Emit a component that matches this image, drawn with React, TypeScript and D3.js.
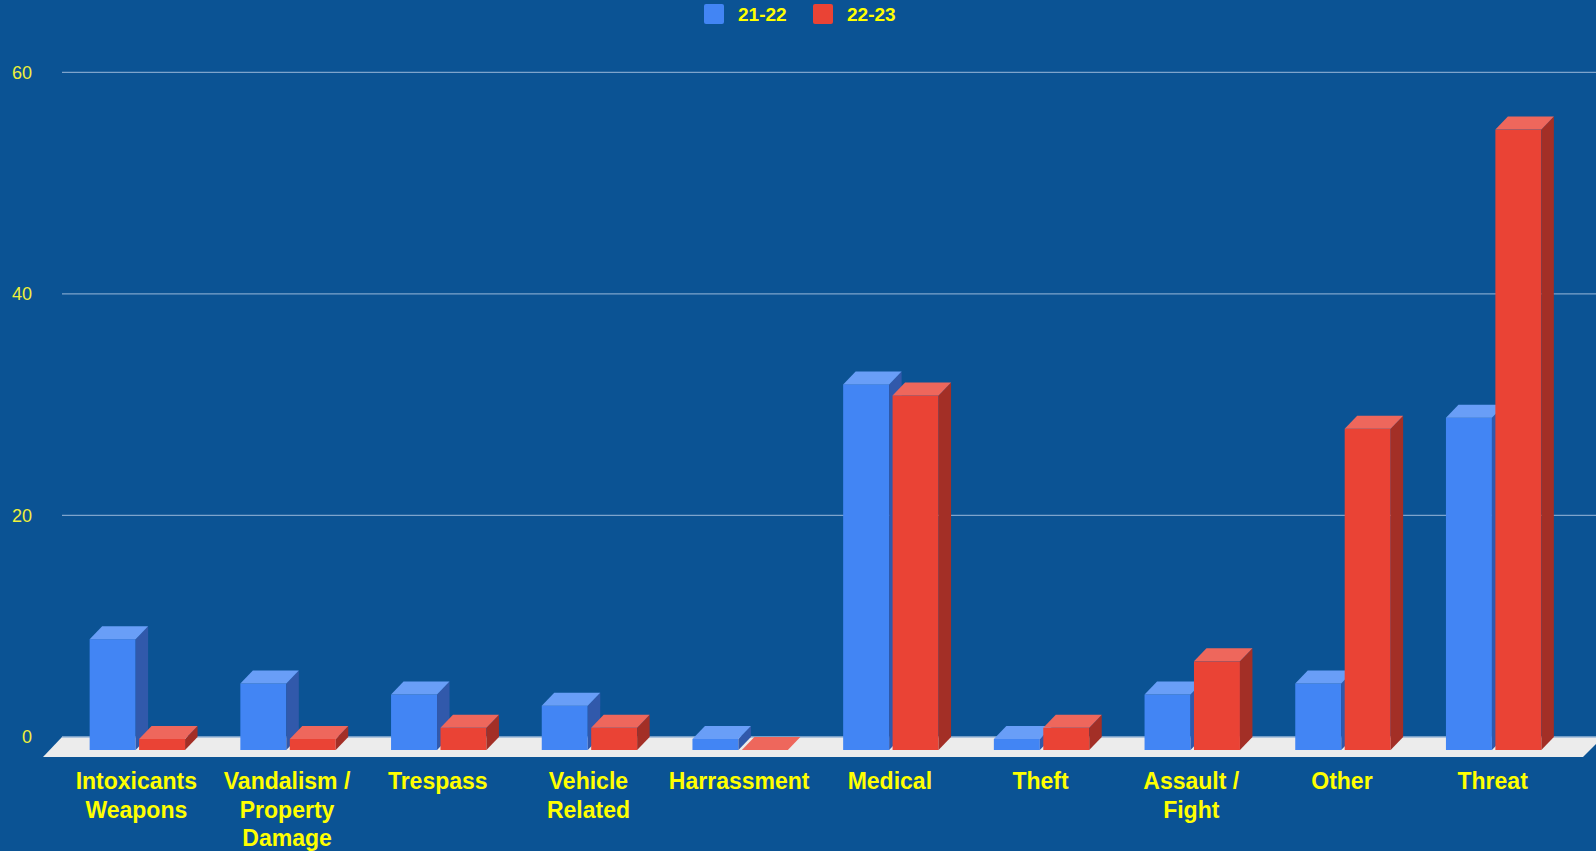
import React, { useRef, useEffect } from "react";
import * as d3 from "d3";

const categories = [
  "Intoxicants Weapons",
  "Vandalism / Property Damage",
  "Trespass",
  "Vehicle Related",
  "Harrassment",
  "Medical",
  "Theft",
  "Assault / Fight",
  "Other",
  "Threat",
];
const seriesNames = ["21-22", "22-23"];
const values2122 = [10, 6, 5, 4, 1, 33, 1, 5, 6, 30];
const values2223 = [1, 1, 2, 2, 0, 32, 2, 8, 29, 56];
const yTicks = [0, 20, 40, 60];

const palette = [
  { front: "#4285f4", top: "#699ef7", side: "#3159ab" },
  { front: "#ea4335", top: "#ee675c", side: "#a32f26" },
];

const W = 1596;
const H = 851;
const FONT = "'Liberation Sans', Arial, sans-serif";

// wrap a label greedily to fit maxW at the given font
function wrap(text: string, font: string, maxW: number): string[] {
  const ctx = document.createElement("canvas").getContext("2d")!;
  ctx.font = font;
  const words = text.split(" ");
  const lines: string[] = [];
  let cur = "";
  words.forEach((w) => {
    const t = cur ? cur + " " + w : w;
    if (cur && ctx.measureText(t).width > maxW) {
      lines.push(cur);
      cur = w;
    } else cur = t;
  });
  if (cur) lines.push(cur);
  return lines;
}

const App = () => {
  const svgRef = useRef<SVGSVGElement>(null);

  useEffect(() => {
    document.body.style.margin = "0";
    const svg = d3.select(svgRef.current);
    svg.selectAll("*").remove();

    const series = [values2122, values2223];
    const depthX = 12.5;
    const depthY = 13;

    const x = d3.scaleBand().domain(categories).range([62, 1569]);
    const pairW = x.bandwidth() * 0.633;
    const xInner = d3
      .scaleBand()
      .domain(seriesNames)
      .range([0, pairW])
      .paddingInner(0.07);

    // y is measured on the back wall
    const y = d3.scaleLinear().domain([0, 60]).range([737, 72.3]);

    svg
      .append("rect")
      .attr("width", W)
      .attr("height", H)
      .attr("fill", "#0b5394");

    // gridlines
    svg
      .selectAll(".grid")
      .data(yTicks.filter((t) => t > 0))
      .join("line")
      .attr("class", "grid")
      .attr("x1", 62)
      .attr("x2", W)
      .attr("y1", (d) => y(d))
      .attr("y2", (d) => y(d))
      .attr("stroke", "#7ea4cc")
      .attr("stroke-width", 1.2);

    // floor
    const y0 = y(0);
    svg
      .append("path")
      .attr(
        "d",
        `M62,${y0} L1603,${y0} L1583,${y0 + 20} L43,${y0 + 20} Z`
      )
      .attr("fill", "#ececec");
    svg
      .append("line")
      .attr("x1", 62)
      .attr("x2", W)
      .attr("y1", y0)
      .attr("y2", y0)
      .attr("stroke", "#9db8d8")
      .attr("stroke-width", 1.5);

    // y labels
    svg
      .selectAll(".ylab")
      .data(yTicks)
      .join("text")
      .attr("class", "ylab")
      .attr("x", 32)
      .attr("y", (d) => y(d))
      .attr("dy", "0.35em")
      .attr("text-anchor", "end")
      .attr("font-family", FONT)
      .attr("font-size", 18)
      .attr("fill", "#f0f03a")
      .text((d) => d);

    // 3d bars
    categories.forEach((c, ci) => {
      const start = x(c)! + (x.bandwidth() - pairW) / 2;
      seriesNames.forEach((s, si) => {
        const v = series[si][ci];
        const col = palette[si];
        const x0 = start + xInner(s)!;
        const bw = xInner.bandwidth();
        const yf = y(v) + depthY;
        const yb = y0 + depthY;
        const g = svg.append("g");
        if (v > 0) {
          g.append("rect")
            .attr("x", x0)
            .attr("y", yf)
            .attr("width", bw)
            .attr("height", yb - yf)
            .attr("fill", col.front);
          g.append("path")
            .attr(
              "d",
              `M${x0 + bw},${yf} L${x0 + bw + depthX},${yf - depthY} L${x0 + bw + depthX},${y0} L${x0 + bw},${yb} Z`
            )
            .attr("fill", col.side);
        }
        g.append("path")
          .attr(
            "d",
            `M${x0},${yf} L${x0 + bw},${yf} L${x0 + bw + depthX},${yf - depthY} L${x0 + depthX},${yf - depthY} Z`
          )
          .attr("fill", col.top);
      });
    });

    // category labels
    const labFont = `bold 23px ${FONT}`;
    categories.forEach((c) => {
      const lines = wrap(c, labFont, 150);
      const t = svg
        .append("text")
        .attr("x", x(c)! + x.bandwidth() / 2 - 1)
        .attr("y", 789)
        .attr("text-anchor", "middle")
        .attr("font-family", FONT)
        .attr("font-weight", "bold")
        .attr("font-size", 23)
        .attr("fill", "#ffff00");
      lines.forEach((l, i) =>
        t
          .append("tspan")
          .attr("x", x(c)! + x.bandwidth() / 2 - 1)
          .attr("dy", i === 0 ? 0 : 28.5)
          .text(l)
      );
    });

    // legend
    const legX = [704, 813];
    const legend = svg
      .selectAll(".legend")
      .data(seriesNames)
      .join("g")
      .attr("class", "legend")
      .attr("transform", (d, i) => `translate(${legX[i]}, 4)`);
    legend
      .append("rect")
      .attr("width", 20)
      .attr("height", 20)
      .attr("rx", 2)
      .attr("fill", (d, i) => palette[i].front);
    legend
      .append("text")
      .attr("x", 34)
      .attr("y", 10)
      .attr("dy", "0.35em")
      .attr("font-family", FONT)
      .attr("font-weight", "bold")
      .attr("font-size", 19)
      .attr("fill", "#ffff00")
      .text((d) => d);
  }, []);

  return (
    <svg
      ref={svgRef}
      width={W}
      height={H}
      style={{ display: "block" }}
    ></svg>
  );
};

export default App;
